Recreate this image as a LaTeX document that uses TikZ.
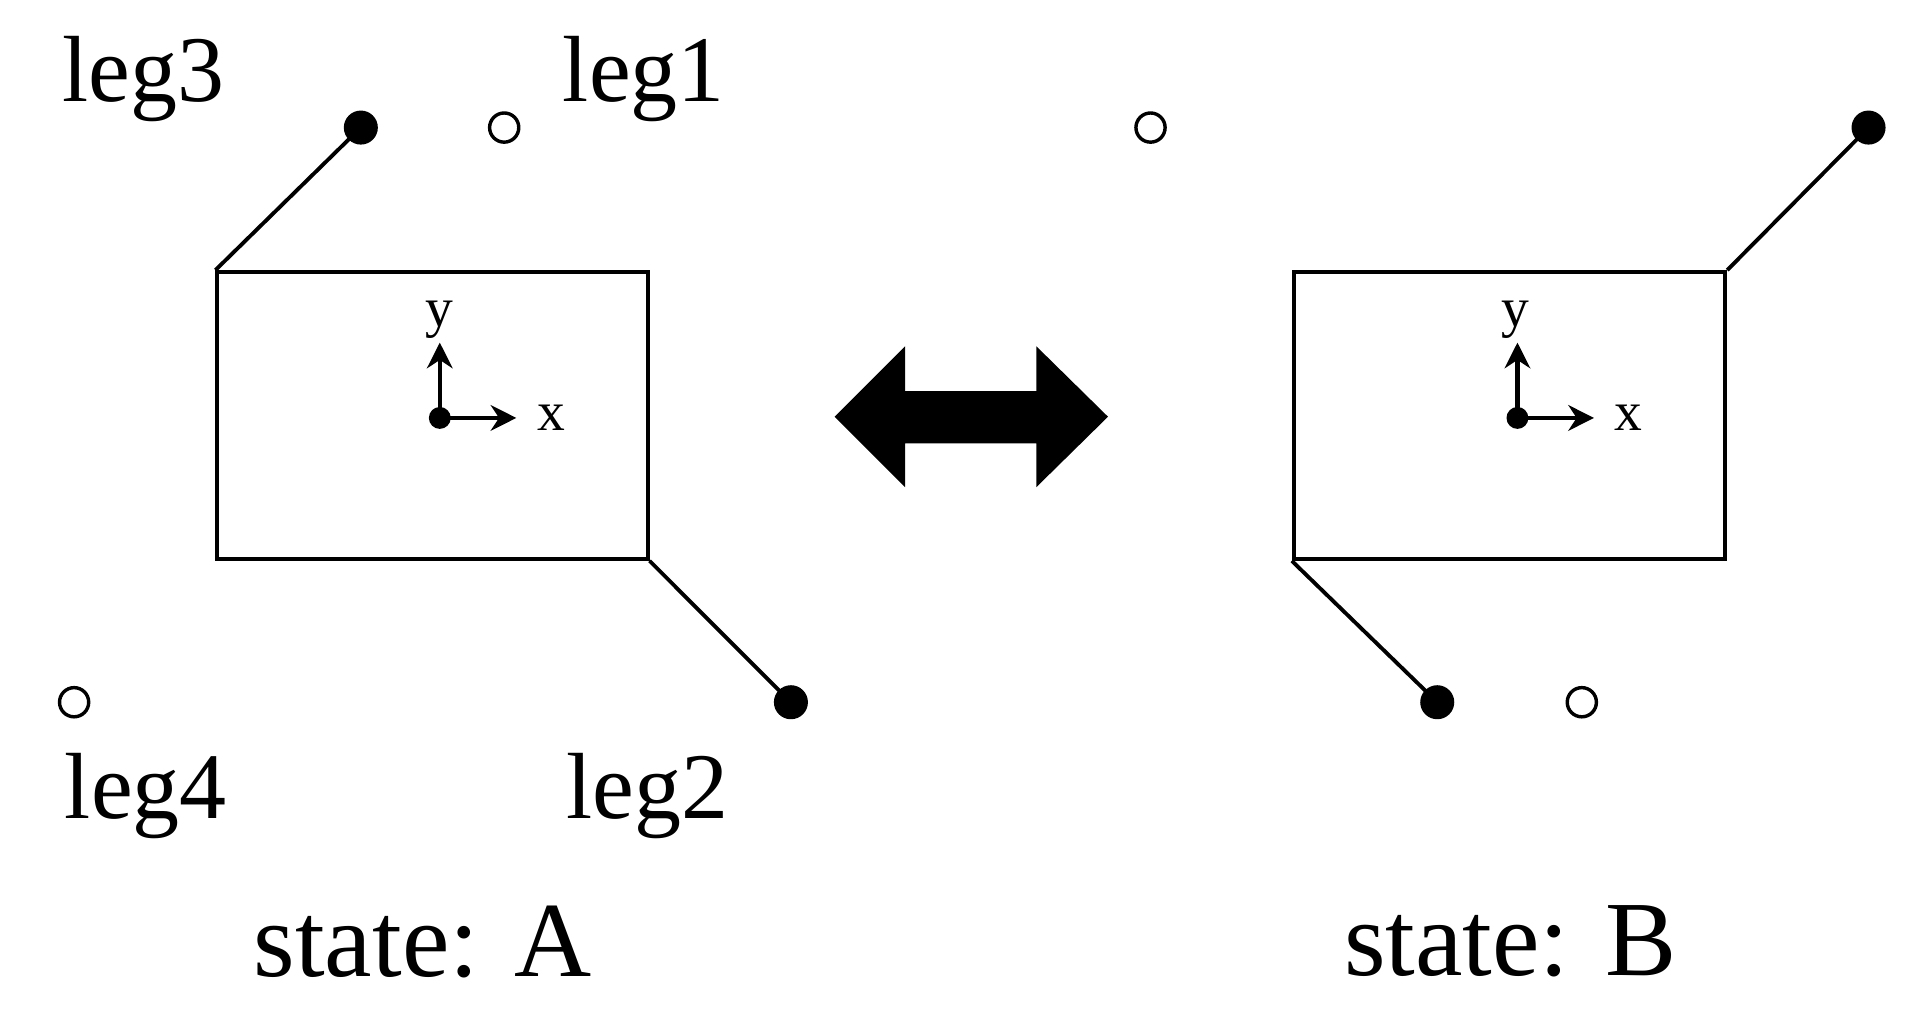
\documentclass[tikz,border=0pt]{standalone}
\usepackage{fontspec}
\usetikzlibrary{arrows.meta}
\setmainfont{Liberation Serif}
\begin{document}
\begin{tikzpicture}[x=0.01cm,y=-0.01cm,line width=0.9pt,
  fdot/.style={circle,fill=black,inner sep=0,minimum size=0.28cm},
  hdot/.style={circle,draw=black,line width=0.8pt,fill=white,inner sep=0,minimum size=0.24cm},
  odot/.style={circle,fill=black,inner sep=0,minimum size=0.18cm},
  lbl/.style={font=\fontsize{22}{24}\selectfont},
  big/.style={font=\fontsize{25}{28}\selectfont},
  ax/.style={font=\fontsize{13}{14}\selectfont},
  arr/.style={-{Stealth[length=6pt,width=6pt]},line width=1pt}]
\useasboundingbox (0,0) rectangle (1568,830);
% state A
\node[draw,minimum width=3.54cm,minimum height=2.36cm,inner sep=0] (boxA) at (356,342) {};
\node[fdot] (a3) at (297,105) {};
\node[fdot] (a2) at (651,578) {};
\node[hdot] (a1) at (415,105) {};
\node[hdot] (a4) at (61,578) {};
\draw (boxA.north west) -- (a3.center);
\draw (boxA.south east) -- (a2.center);
\node[lbl] (l3) at (118,65) {leg3};
\node[lbl] (l1) at (530,65) {leg1};
\node[lbl] (l4) at (120,655) {leg4};
\node[lbl] (l2) at (533,655) {leg2};
\node[odot] (oA) at (362,344) {};
\coordinate (xA) at (425,344);
\coordinate (yA) at (362,282);
\draw[arr] (oA.center) -- (xA);
\draw[arr] (oA.center) -- (yA);
\node[ax] (xlA) at (454,344) {x};
\node[ax] (ylA) at (362,263) {y};
\node[big] (sA) at (348,775) {state: A};
% state B
\node[draw,minimum width=3.55cm,minimum height=2.36cm,inner sep=0] (boxB) at (1242.5,342) {};
\node[fdot] (b1) at (1538,105) {};
\node[fdot] (b2) at (1183,578) {};
\node[hdot] (b3) at (947,105) {};
\node[hdot] (b4) at (1302,578) {};
\draw (boxB.north east) -- (b1.center);
\draw (boxB.south west) -- (b2.center);
\node[odot] (oB) at (1249,344) {};
\coordinate (xB) at (1312,344);
\coordinate (yB) at (1249,282);
\draw[arr] (oB.center) -- (xB);
\draw[arr] (oB.center) -- (yB);
\node[ax] (xlB) at (1340,344) {x};
\node[ax] (ylB) at (1247,263) {y};
\node[big] (sB) at (1243,775) {state: B};
% double arrow
\fill (687,343) -- (745,285) -- (745,322) -- (853,322) -- (853,285) -- (912,343) -- (853,401) -- (853,365) -- (745,365) -- (745,401) -- cycle;
\end{tikzpicture}
\end{document}
